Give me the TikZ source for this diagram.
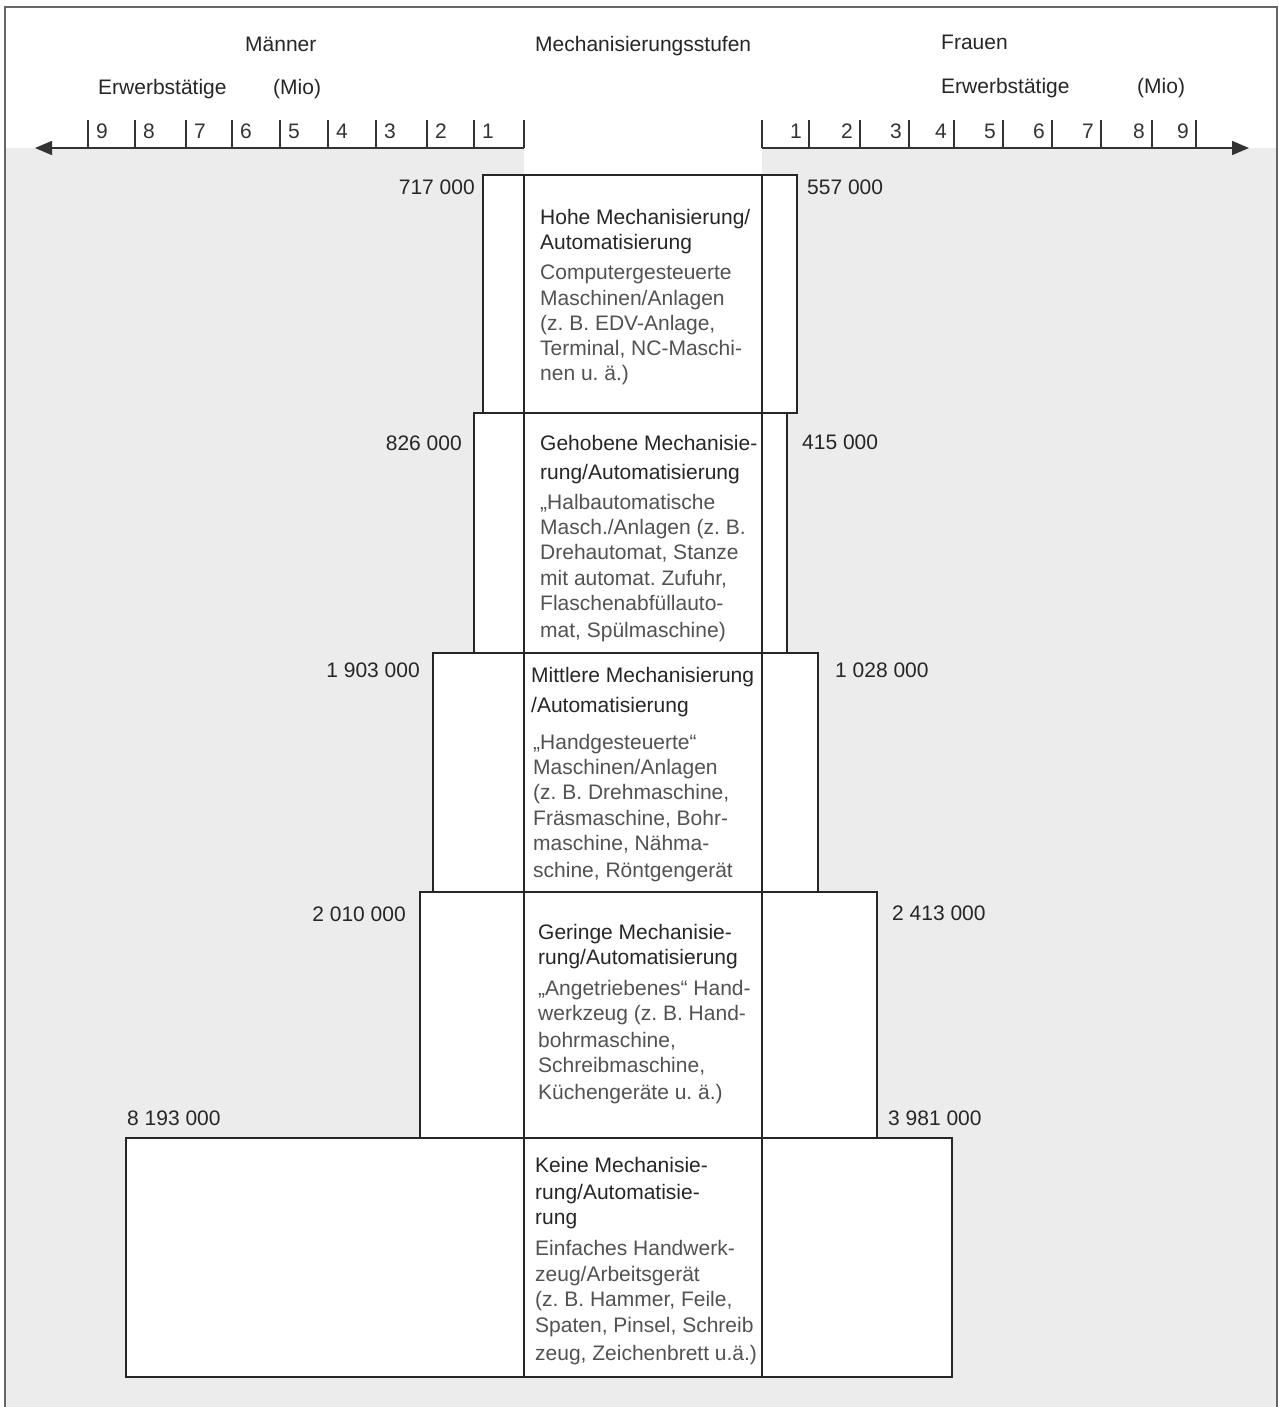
\documentclass[tikz,border=0pt]{standalone}
\usepackage{fontspec}
\setmainfont{Liberation Sans}
\usetikzlibrary{arrows.meta}
\frenchspacing
\newcommand\fsz{\fontsize{21}{25}\selectfont\frenchspacing}
\definecolor{bggray}{RGB}{236,236,236}
\tikzset{
  txt/.style={inner sep=0pt, anchor=base west, font=\fsz},
  ttl/.style={txt, text=black!85},
  bdy/.style={txt, text=black!68},
  hdr/.style={txt, text=black!85},
  numl/.style={inner sep=0pt, anchor=base east, font=\fsz, text=black!85},
  numr/.style={inner sep=0pt, anchor=base west, font=\fsz, text=black!85},
  tickl/.style={inner sep=0pt, anchor=base west, font=\fsz, text=black!80},
  tickr/.style={inner sep=0pt, anchor=base east, font=\fsz, text=black!80},
  barbox/.style={draw=black!85, line width=2.6pt, fill=white},
  axisline/.style={draw=black!80, line width=1.5pt},
  frameline/.style={draw=black!60, line width=1.2pt}
}
\begin{document}
\begin{tikzpicture}[x=1pt,y=-1pt]
\useasboundingbox (0,0) rectangle (1278,1407);
% background
\fill[white] (0,0) rectangle (1278,1407);
\fill[bggray] (5,148) rectangle (1278,1407);
\fill[white] (524,148) rectangle (762,176);
% frame
\draw[frameline] (5,1407) -- (5,7) -- (1277,7) -- (1277,1407);

% headers
\node[hdr] (maenner) at (245,52) {Männer};
\node[hdr] (mstufen) at (535,52) {Mechanisierungsstufen};
\node[hdr] (frauen) at (941,50) {Frauen};
\node[hdr] (erwl) at (98,95) {Erwerbstätige};
\node[hdr] (miol) at (273,95) {(Mio)};
\node[hdr] (erwr) at (941,94) {Erwerbstätige};
\node[hdr] (mior) at (1137,94) {(Mio)};

% left axis
\coordinate (lax0) at (524,148);
\coordinate (laxend) at (35,148);
\draw[axisline, -{Triangle[length=17pt,width=14pt]}] (lax0) -- (laxend);
\draw[axisline] (524,120) -- (lax0);
\foreach \x/\n in {474/1,427/2,376/3,328/4,280/5,232/6,186/7,135/8,88/9}{
  \draw[axisline] (\x,120) -- (\x,148);
  \node[tickl] (lt\n) at (\x+8,139) {\n};
}
% right axis
\coordinate (rax0) at (762,148);
\coordinate (raxend) at (1249,148);
\draw[axisline, -{Triangle[length=17pt,width=14pt]}] (rax0) -- (raxend);
\draw[axisline] (762,120) -- (rax0);
\foreach \x/\n in {809/1,860/2,909/3,954/4,1003/5,1052/6,1101/7,1152/8,1196/9}{
  \draw[axisline] (\x,120) -- (\x,148);
  \node[tickr] (rt\n) at (\x-7,139) {\n};
}

% bars
\draw[barbox] (126,1138) rectangle (952,1377);
\draw[barbox] (420,892) rectangle (877,1138);
\draw[barbox] (433,653) rectangle (818,892);
\draw[barbox] (474,413) rectangle (787,653);
\draw[barbox] (483,175) rectangle (797,413);
\draw[barbox, fill=none] (524,175) -- (524,1377);
\draw[barbox, fill=none] (762,175) -- (762,1377);

% numbers
\node[numl] (n1l) at (475,195) {717 000};
\node[numr] (n1r) at (807,195) {557 000};
\node[numl] (n2l) at (462,450) {826 000};
\node[numr] (n2r) at (802,449) {415 000};
\node[numl] (n3l) at (420,677) {1 903 000};
\node[numr] (n3r) at (835,677) {1 028 000};
\node[numl] (n4l) at (406,921) {2 010 000};
\node[numr] (n4r) at (892,920) {2 413 000};
\node[numr] (n5l) at (127,1125) {8 193 000};
\node[numr] (n5r) at (888,1125) {3 981 000};

% box 1
\node[ttl] (b1a) at (540,224) {Hohe Mechanisierung/};
\node[ttl] (b1b) at (540,249) {Automatisierung};
\node[bdy] (b1c) at (540,279) {Computergesteuerte};
\node[bdy] (b1d) at (540,305) {Maschinen/Anlagen};
\node[bdy] (b1e) at (540,330) {(z. B. EDV-Anlage,};
\node[bdy] (b1f) at (540,355) {Terminal, NC-Maschi-};
\node[bdy] (b1g) at (540,380) {nen u. ä.)};

% box 2
\node[ttl] (b2a) at (540,450) {Gehobene Mechanisie-};
\node[ttl] (b2b) at (540,479) {rung/Automatisierung};
\node[bdy] (b2c) at (540,509) {„Halbautomatische};
\node[bdy] (b2d) at (540,534) {Masch./Anlagen (z. B.};
\node[bdy] (b2e) at (540,559) {Drehautomat, Stanze};
\node[bdy] (b2f) at (540,585) {mit automat. Zufuhr,};
\node[bdy] (b2g) at (540,610) {Flaschenabfüllauto-};
\node[bdy] (b2h) at (540,637) {mat, Spülmaschine)};

% box 3
\node[ttl] (b3a) at (531,682) {Mittlere Mechanisierung};
\node[ttl] (b3b) at (531,712) {/Automatisierung};
\node[bdy] (b3c) at (533,749) {„Handgesteuerte“};
\node[bdy] (b3d) at (533,774) {Maschinen/Anlagen};
\node[bdy] (b3e) at (533,799) {(z. B. Drehmaschine,};
\node[bdy] (b3f) at (533,825) {Fräsmaschine, Bohr-};
\node[bdy] (b3g) at (533,850) {maschine, Nähma-};
\node[bdy] (b3h) at (533,877) {schine, Röntgengerät};

% box 4
\node[ttl] (b4a) at (538,939) {Geringe Mechanisie-};
\node[ttl] (b4b) at (538,964) {rung/Automatisierung};
\node[bdy] (b4c) at (538,995) {„Angetriebenes“ Hand-};
\node[bdy] (b4d) at (538,1020) {werkzeug (z. B. Hand-};
\node[bdy] (b4e) at (538,1047) {bohrmaschine,};
\node[bdy] (b4f) at (538,1072) {Schreibmaschine,};
\node[bdy] (b4g) at (538,1099) {Küchengeräte u. ä.)};

% box 5
\node[ttl] (b5a) at (535,1172) {Keine Mechanisie-};
\node[ttl] (b5b) at (535,1199) {rung/Automatisie-};
\node[ttl] (b5c) at (535,1224) {rung};
\node[bdy] (b5d) at (535,1255) {Einfaches Handwerk-};
\node[bdy] (b5e) at (535,1281) {zeug/Arbeitsgerät};
\node[bdy] (b5f) at (535,1306) {(z. B. Hammer, Feile,};
\node[bdy] (b5g) at (535,1332) {Spaten, Pinsel, Schreib};
\node[bdy] (b5h) at (535,1360) {zeug, Zeichenbrett u.ä.)};
\end{tikzpicture}
\end{document}
